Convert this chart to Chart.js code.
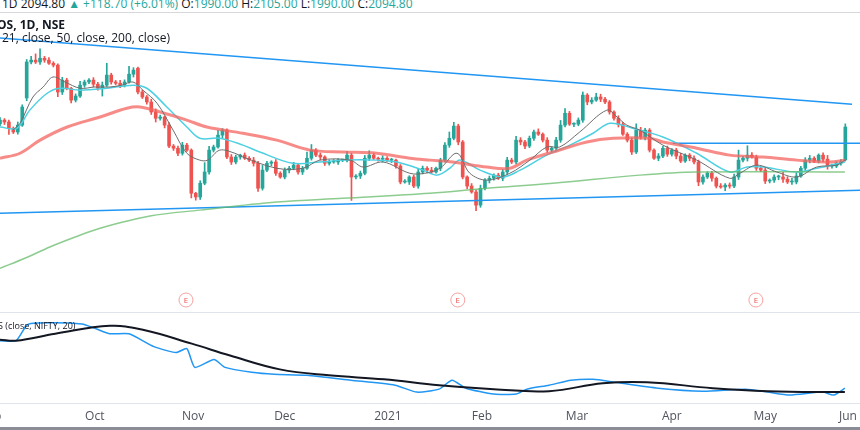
<!DOCTYPE html>
<html><head><meta charset="utf-8">
<script src="https://cdn.jsdelivr.net/npm/chart.js@4.4.1/dist/chart.umd.min.js"></script>
<style>
html,body{margin:0;padding:0;background:#fff;width:860px;height:430px;overflow:hidden;font-family:"Open Sans","Liberation Sans",sans-serif}
#hdr{position:absolute;left:2px;top:-5px;font-size:12px;color:#131722;white-space:nowrap}
#hdr .g{color:#26a69a}
#sep{position:absolute;left:0;top:12px;width:860px;height:1px;background:#d6d8dc}
#t1{position:absolute;left:-3px;top:16px;font-size:12px;font-weight:bold;color:#131722}
#t2{position:absolute;left:2px;top:29px;font-size:12px;color:#131722}
#t3{position:absolute;left:-2px;top:319px;font-size:9px;color:#131722;z-index:3}
#c1w{position:absolute;left:0;top:12px;width:860px;height:300px}
#c2w{position:absolute;left:0;top:313px;width:860px;height:117px}
#sep2{position:absolute;left:0;top:312px;width:860px;height:1px;background:#e0e3eb}
#bot{position:absolute;left:0;top:427px;width:860px;height:3px;background:#8a8d95}
</style></head><body>
<div id="hdr">1D 2094.80 <span class="g">▲ +118.70 (+6.01%)</span> O:<span class="g">1990.00</span> H:<span class="g">2105.00</span> L:<span class="g">1990.00</span> C:<span class="g">2094.80</span></div>
<div id="sep"></div>
<div id="c1w"><canvas id="c1"></canvas></div>
<div id="sep2"></div>
<div id="c2w"><canvas id="c2"></canvas></div>
<div id="t1">OS, 1D, NSE</div>
<div id="t2">21, close, 50, close, 200, close)</div>
<div id="t3">S (close, NIFTY, 20)</div>
<div id="bot"></div>
<script>
const closes=[2117,2111,2091,2079,2101,2159,2303,2309,2303,2315,
2309,2299,2293,2207,2245,2219,2181,2194,2229,2239,
2245,2232,2219,2229,2261,2239,2235,2229,2239,2264,
2277,2207,2191,2175,2143,2123,2127,2101,2034,2027,
2011,2037,2021,1883,1871,1915,1951,2021,2031,2069,
2085,1999,1983,1999,2005,1995,1989,1979,1899,1957,
1979,1983,1947,1935,1957,1963,1973,1951,1963,1995,
2021,2005,1999,1979,1983,1983,1989,1989,2005,1935,
1938,1947,1995,2005,1995,1992,1995,1989,1989,1970,
1919,1919,1935,1906,1951,1963,1957,1951,1963,1989,
2037,2059,2098,2047,1935,1906,1887,1845,1899,1925,
1931,1941,1931,1951,1989,1983,2053,2047,2034,2059,
2079,2072,2053,2021,2027,2053,2101,2139,2104,2104,
2117,2197,2175,2181,2191,2184,2175,2143,2123,2104,
2072,2053,2015,2085,2063,2085,2021,1995,2002,2027,
2008,2021,2002,1986,2005,1995,1983,1919,1935,1947,
1931,1906,1903,1909,1906,1935,1989,1995,2005,1999,
1963,1957,1922,1925,1935,1935,1928,1919,1919,1938,
1963,1989,1995,1986,2005,1992,1970,1970,1979,1983,
2095];
const gapOpens={0:2105,6:2188,31:2283,190:1990};
const wickUp=[8,5,6,4,10,7,8,12,20,30,6,8,5,4,9,6,3,7,12,6,
5,8,6,10,38,6,5,9,7,25,8,4,6,5,9,10,6,3,8,5,
7,9,6,4,3,8,30,12,6,15,5,4,8,6,3,7,5,9,6,15,
6,4,8,5,7,6,9,4,6,20,18,5,7,4,6,8,5,3,12,6,
5,7,9,14,6,4,8,5,6,3,5,8,4,6,10,7,5,9,4,6,
8,20,12,6,5,4,8,6,10,5,7,4,6,8,9,6,12,8,5,7,
6,10,4,8,5,9,15,15,6,4,7,10,5,8,12,9,6,5,4,8,
6,5,7,20,9,6,5,4,8,6,7,5,6,9,4,5,8,6,7,5,
6,4,8,5,7,9,32,6,30,8,6,5,9,4,7,6,15,8,12,10,
6,8,9,5,4,7,12,6,5,8,10];
const wickDn=[6,8,20,5,7,4,9,6,5,8,7,4,6,15,8,5,9,6,4,7,
5,8,6,25,4,7,5,8,6,4,9,6,5,7,8,12,6,9,5,7,
8,6,4,15,10,8,5,7,6,4,9,5,8,6,7,4,5,9,10,6,
5,8,7,4,6,9,5,7,8,4,6,5,9,7,6,4,8,5,6,75,
6,8,5,7,4,6,9,5,8,7,6,4,8,5,7,6,9,5,4,8,
6,7,5,9,6,8,4,18,7,5,9,6,4,8,7,5,6,9,8,5,
7,4,6,8,5,9,7,6,4,8,5,7,9,6,4,8,5,7,6,9,
4,6,8,5,7,9,6,4,8,5,7,6,9,5,4,8,6,12,7,5,
9,6,4,12,7,5,8,6,9,4,7,5,8,6,7,9,10,5,8,6,
4,7,9,5,6,8,10,7,5,6,4];

const grayDays=[2.9,4.5,7.4,9.7,11.9,14.6,18.0,21.3,24.7,27.4,29.9,32.1,35.3,38.9,42.0,44.9,46.7,49.4,52.8,54.6,62.2,68.1,71.9,78.7,81.6,86.1,92.1,95.5,98.9,102.7,105.6,109.4,114.6,119.1,122.9,125.8,130.3,136.4,138.7,140.9,143.8,149.0,156.6,164.0,166.3,170.1,174.6,179.1,183.6,188.1,189.9];
const grayVals=[2085,2107,2191,2223,2255,2239,2219,2223,2223,2229,2239,2213,2171,2085,2011,1989,1989,2021,2011,1999,1963,1963,1989,1989,1967,1983,1947,1947,1963,2011,1947,1925,1947,1989,2031,2031,2079,2149,2127,2101,2085,2037,1989,1931,1947,1973,1951,1935,1967,1973,1989];
const cyanDays=[0,3.8,6.7,10.6,13.5,18.0,24.0,29.9,33.0,37.5,42.0,44.9,49.4,54.6,58.4,65.8,71.9,77.1,84.7,89.2,95.1,98.2,101.1,103.4,107.9,113.0,116.9,122.9,128.1,133.3,137.1,142.2,149.0,156.6,164.0,167.9,171.5,179.1,183.6,189.9];
const cyanVals=[2095,2091,2149,2203,2219,2213,2219,2229,2219,2159,2095,2059,2059,2037,2015,1979,1983,1989,1989,1983,1957,1941,1963,1989,1957,1935,1957,2005,2037,2075,2107,2091,2063,2011,1951,1967,1967,1951,1963,1983];
const ma50Days=[0,4.5,9.0,15.1,22.5,28.5,31.5,36.0,42.0,46.5,54.6,62.2,69.7,77.1,84.7,92.1,96.6,101.8,109.4,114.6,118.4,124.3,131.9,137.8,146.1,149.0,156.6,164.0,171.5,179.1,186.5,189.9];
const ma50Vals=[1995,2011,2053,2095,2127,2155,2159,2143,2117,2095,2075,2053,2021,2015,2011,1995,1989,1983,1967,1963,1989,2015,2047,2059,2059,2047,2027,2005,1999,1989,1983,1989];
const ma200Days=[0,5.6,11.2,16.9,22.5,33.7,44.9,62.2,77.1,96.6,109.4,124.3,143.8,156.6,189.9];
const ma200Vals=[1643,1675,1711,1743,1771,1810,1829,1855,1867,1883,1899,1915,1941,1951,1951];
const upperLine=[[0,2380],[191.5,2168]];
const lowerLine=[[0,1819],[193.3,1893]];
const hLine=[[151.2,2043],[193.3,2043]];
const earnDays=[41.8,102.9,169.9];
const rsDays=[0,3.6,6.1,8.5,18.4,21.6,24.7,29.0,34.6,39.6,42.0,43.8,48.1,50.6,56.6,61.6,69.0,78.9,88.8,93.7,98.7,101.6,104.7,111.0,116.0,118.4,123.4,128.3,133.3,138.2,147.9,158.0,167.6,172.6,177.5,184.9,187.4,189.9];
const rsVals=[59,59,75,77,76,71,66,66,53,47,51,32,40,32,27,25,24,19,14,7,10,19,11,5,5,10,14,19,20,17,11,8,10,7,4,7,4,11];
const rsMaDays=[0,3.6,12.4,24.7,32.1,43.1,51.7,62.9,73.9,86.3,98.7,111.0,123.4,135.5,145.4,160.2,172.6,189.9];
const rsMaVals=[60,59,66,74,70,56,44,30,24,20,14,10,8,16,17,11,8,7];
const tickPos=[-2,21.3,43.4,64,87.2,108.3,129.7,151,172,190.6];
const tickLabels=['Sep','Oct','Nov','Dec','2021','Feb','Mar','Apr','May','Jun'];

const UP='#26a69a', DN='#ef5350';
const opens=closes.map((c,i)=>gapOpens[i]!==undefined?gapOpens[i]:closes[i-1]);
const cols=closes.map((c,i)=>c>=opens[i]?UP:DN);
const bodies=closes.map((c,i)=>({x:i,y:[opens[i],c]}));
const wicks=closes.map((c,i)=>({x:i,y:[Math.min(opens[i],c)-wickDn[i],Math.max(opens[i],c)+wickUp[i]]}));
const pts=(d,v)=>d.map((x,i)=>({x,y:v[i]}));
const seg=a=>a.map(p=>({x:p[0],y:p[1]}));
const line=(data,color,w,extra)=>Object.assign({type:'line',data,borderColor:color,borderWidth:w,pointRadius:0,tension:0.35,order:1,fill:false},extra||{});

const earnPlugin={id:'earn',afterDraw(ch){
  const c=ch.ctx,xs=ch.scales.x;
  earnDays.forEach(d=>{const x=xs.getPixelForValue(d),y=288;
    c.save();c.beginPath();c.arc(x,y,7,0,Math.PI*2);c.fillStyle='#fff';c.fill();
    c.strokeStyle='#f7a1a0';c.lineWidth=1;c.stroke();
    c.fillStyle='#ef5350';c.font='8px "Open Sans",sans-serif';c.textAlign='center';c.textBaseline='middle';
    c.fillText('E',x,y+0.5);c.restore();});
}};

new Chart(document.getElementById('c1'),{
 type:'bar',
 data:{datasets:[
  {type:'bar',data:wicks,backgroundColor:cols,barThickness:1,grouped:false,order:4},
  {type:'bar',data:bodies,backgroundColor:cols,barThickness:3,minBarLength:1,grouped:false,order:3},
  line(pts(ma200Days,ma200Vals),'rgba(102,187,106,0.75)',1.5),
  line(pts(ma50Days,ma50Vals),'rgba(244,100,96,0.75)',3),
  line(pts(cyanDays,cyanVals),'#4dd0e1',1.5),
  line(pts(grayDays,grayVals),'#6d6d6d',1,{order:0}),
  line(seg(upperLine),'#2196f3',1.5,{tension:0}),
  line(seg(lowerLine),'#2196f3',1.5,{tension:0}),
  line(seg(hLine),'#2196f3',1.5,{tension:0})
 ]},
 options:{responsive:true,maintainAspectRatio:false,animation:false,
  layout:{padding:0},
  plugins:{legend:{display:false},tooltip:{enabled:false}},
  scales:{x:{type:'linear',min:0,max:193.3,display:false,offset:false},
          y:{min:1503,max:2463,display:false}}},
 plugins:[earnPlugin]
});

new Chart(document.getElementById('c2'),{
 type:'line',
 data:{datasets:[
  line(pts(rsDays,rsVals),'#2196f3',1.5,{tension:0.2}),
  line(pts(rsMaDays,rsMaVals),'#131722',2,{tension:0.4,order:0})
 ]},
 options:{responsive:true,maintainAspectRatio:false,animation:false,
  layout:{padding:0},
  plugins:{legend:{display:false},tooltip:{enabled:false}},
  scales:{
   x:{type:'linear',min:0,max:193.3,offset:false,
      grid:{display:false,drawTicks:false},border:{color:'#e0e3eb'},
      afterBuildTicks(s){s.ticks=tickPos.map(v=>({value:v}));},
      afterFit(s){s.height=27;s.paddingLeft=0;s.paddingRight=0;},
      ticks:{autoSkip:false,maxRotation:0,padding:6,color:'#50535e',font:{size:12,family:'"Open Sans",sans-serif'},
        callback:(v,i)=>tickLabels[i]}},
   y:{min:-4,max:87,display:false}}}
});
</script>
</body></html>
